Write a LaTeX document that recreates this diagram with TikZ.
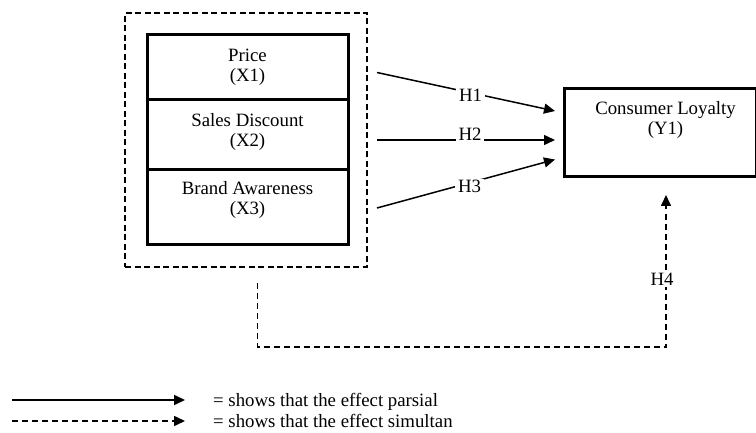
\documentclass[tikz,border=0pt]{standalone}
\usepackage{fontspec}
\setmainfont{Liberation Serif}
\usetikzlibrary{arrows.meta}
\begin{document}
\begin{tikzpicture}[x=1pt,y=-1pt,
  every node/.style={font=\fontsize{18.8}{20}\selectfont, inner sep=0pt},
  thickbox/.style={draw, line width=3pt, rectangle},
  dashbox/.style={draw, line width=1.3pt, dash pattern=on 6pt off 3.5pt, rectangle},
  txt/.style={anchor=base},
  partial/.style={line width=1.5pt, -{Triangle[length=11pt,width=10pt]}},
  simult/.style={line width=1.6pt, dash pattern=on 6pt off 4pt, -{Triangle[length=11pt,width=10pt]}},
  hlab/.style={fill=white, inner xsep=3pt, inner ysep=2pt, anchor=base}]
\useasboundingbox (0,0) rectangle (756,433);
% group
\node[dashbox, minimum width=242pt, minimum height=254pt] (grp) at (246,140) {};
\node[thickbox, minimum width=201pt, minimum height=65pt] (x1) at (247.5,67.5) {};
\node[thickbox, minimum width=201pt, minimum height=70pt] (x2) at (247.5,135) {};
\node[thickbox, minimum width=201pt, minimum height=75pt] (x3) at (247.5,207.5) {};
\node[txt] (t1a) at (247.5,61.5) {Price};
\node[txt] (t1b) at (247.5,81.5) {(X1)};
\node[txt] (t2a) at (247.5,127) {Sales Discount};
\node[txt] (t2b) at (247.5,147) {(X2)};
\node[txt] (t3a) at (247.5,195) {Brand Awareness};
\node[txt] (t3b) at (247.5,215) {(X3)};
% dependent
\node[thickbox, minimum width=192pt, minimum height=88pt] (y) at (660,133) {};
\node[txt] (tya) at (665.5,115) {Consumer Loyalty};
\node[txt] (tyb) at (665.5,135) {(Y1)};
% arrows
\coordinate (h1s) at (377,72.5);
\coordinate (h1e) at (555,111);
\coordinate (h2s) at (377,140);
\coordinate (h2e) at (555,140);
\coordinate (h3s) at (377,208);
\coordinate (h3e) at (555,159.5);
\draw[partial] (h1s) -- (h1e);
\draw[partial] (h2s) -- (h2e);
\draw[partial] (h3s) -- (h3e);
\node[hlab] (H1) at (470.5,101.5) {H1};
\node[hlab] (H2) at (470,141) {H2};
\node[hlab] (H3) at (469.5,193) {H3};
\coordinate (h4s) at (257.5,283);
\coordinate (h4c1) at (257.5,347);
\coordinate (h4c2) at (666,347);
\coordinate (h4e) at (666,195);
\draw[simult] (h4s) -- (h4c1) -- (h4c2) -- (h4e);
\node[hlab] (H4) at (662,285) {H4};
% legend
\coordinate (l1s) at (12,400);
\coordinate (l1e) at (185,400);
\coordinate (l2s) at (12,421);
\coordinate (l2e) at (185,421);
\draw[partial] (l1s) -- (l1e);
\draw[simult] (l2s) -- (l2e);
\node[anchor=base west] (lt1) at (213,406) {= shows that the effect parsial};
\node[anchor=base west] (lt2) at (213,427) {= shows that the effect simultan};
\end{tikzpicture}
\end{document}
